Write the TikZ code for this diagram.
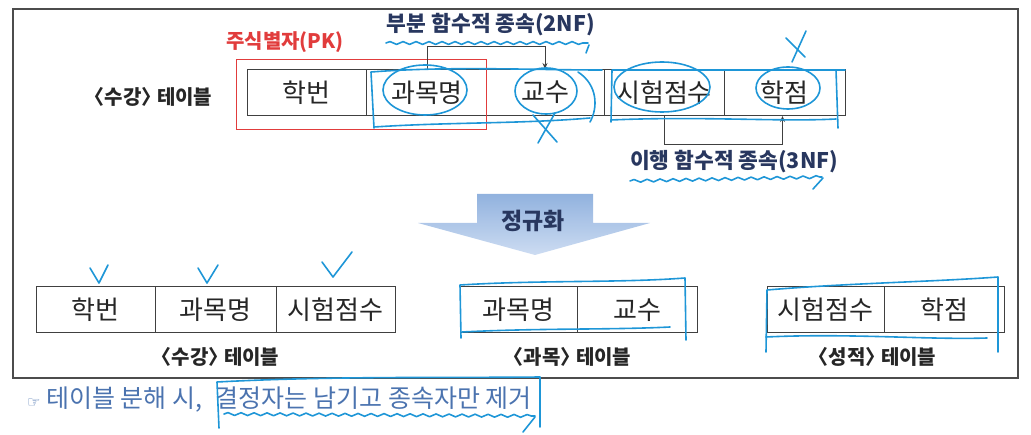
\documentclass[tikz,border=0pt]{standalone}
\usepackage{fontspec}
\setmainfont{Noto Sans CJK KR}
\newfontfamily\symfont{DejaVu Sans}
\usepackage{xcolor}
\usepackage{tikz}
\usetikzlibrary{arrows.meta, positioning, calc, decorations.pathmorphing}
\definecolor{ink}{RGB}{30,150,215}
\definecolor{navy}{RGB}{40,55,95}
\definecolor{pkred}{RGB}{225,60,60}
\definecolor{notecol}{RGB}{75,115,175}
\definecolor{arrowtop}{RGB}{145,178,222}
\definecolor{arrowbot}{RGB}{205,220,242}
\newcommand{\opnb}{\kern-0.45em〈}
\newcommand{\clsb}{〉\kern-0.45em}

\begin{document}
\begin{tikzpicture}[x=1pt, y=-1pt,
  cell/.style={draw=black!75, line width=1pt, minimum height=46pt, inner sep=0pt, text=black!85, font=\fontsize{26}{28}\selectfont},
  celltxt/.style={inner sep=0pt, text=black!85, font=\fontsize{26}{28}\selectfont},
  lab/.style={font=\bfseries\fontsize{20}{22}\selectfont, text=black!85},
  deplab/.style={lab, text=navy, font=\bfseries\fontsize{21.5}{23}\selectfont},
  dep/.style={draw=black!75, line width=0.8pt, -{Stealth[length=6pt,width=5pt]}},
  ink/.style={draw=ink, line width=1.6pt, line cap=round, line join=round},
  wavy/.style={ink, decorate, decoration={snake, amplitude=1.4pt, segment length=13pt}}]
  \useasboundingbox (0,0) rectangle (1031,435);
  % Frame
  \draw[black!70, line width=1.5pt] (13,9) rectangle (1018,378);

  % Original table
  \node[lab] (sugang) at (153,97) {\opnb 수강\clsb{} 테이블};
  \node[cell, minimum width=119pt] (hakbun) at (306.5,92.5) {학번};
  \node[cell, minimum width=238pt] (mid) at (485,92.5) {};
  \node[celltxt] (gwamok) at (427,92.5) {과목명};
  \node[celltxt] (gyosu) at (545,92.5) {교수};
  \node[cell, minimum width=120pt] (siheom) at (664,92.5) {시험점수};
  \node[cell, minimum width=121pt] (hakjeom) at (784.5,92.5) {학점};
  % Primary key
  \node[draw=pkred, line width=1pt, minimum width=250pt, minimum height=70pt] (pkbox) at (361,95) {};
  \node[lab, text=pkred] (pklab) at (285,42) {주식별자(PK)};

  % Dependencies
  \draw[dep] (gwamok |- mid.north) -- ++(0,-23) -| (gyosu |- mid.north);
  \node[deplab] (nf2) at (491,25) {부분 함수적 종속(2NF)};
  \draw[dep] (siheom.south) -- ++(0,28) -| ([xshift=-2pt]hakjeom.south);
  \node[deplab] (nf3) at (734,162) {이행 함수적 종속(3NF)};

  % Normalization arrow
  \shade[top color=arrowtop, bottom color=arrowbot] (477,194) -- (593,194) -- (593,223) -- (650,223)
    -- (535,255) -- (418,223) -- (477,223) -- cycle;
  \node[lab, text=navy, font=\bfseries\fontsize{23}{25}\selectfont] (norm) at (533,221) {정규화};

  % Decomposed tables
  \foreach \nm/\x/\w/\lab in {a1/95.5/119/학번, a2/215.5/121/과목명, a3/335.5/119/시험점수,
      b1/518.5/117/과목명, b2/637/120/교수, c1/825.5/117/시험점수, c2/944/120/학점}{
    \node[cell, minimum width=\w pt] (\nm) at (\x,310) {\lab};
  }
  \node[lab] (laba) at (220,357) {\opnb 수강\clsb{} 테이블};
  \node[lab] (labb) at (572,357) {\opnb 과목\clsb{} 테이블};
  \node[lab] (labc) at (877,357) {\opnb 성적\clsb{} 테이블};

  % Note
  \node[anchor=west, inner sep=0pt, text=notecol, font=\fontsize{25}{27}\selectfont] (note) at (27,400)
    {{\symfont\fontsize{15}{17}\selectfont ☞} 테이블 분해 시,\hspace{8pt} 결정자는 남기고 종속자만 제거};

  % Hand-drawn marks
  \draw[ink] (425,90) ellipse [x radius=42pt, y radius=25pt];
  \draw[ink] (546,91) ellipse [x radius=31pt, y radius=23pt];
  \draw[ink] (662,87) ellipse [x radius=48pt, y radius=25pt];
  \draw[ink] (788,88) ellipse [x radius=32pt, y radius=21pt];
  \draw[ink] (533,115) -- (557,142);
  \draw[ink] (555,113) -- (538,143);
  \draw[ink] (786,38) -- (805,57);
  \draw[ink] (806,31) -- (792,62);
  \draw[ink] (374,128) -- (371,72) .. controls (450,66) and (530,70) .. (602,70);
  \draw[ink] (374,127) .. controls (450,122) and (520,124) .. (590,118);
  \draw[ink] (578,72) .. controls (598,85) and (598,108) .. (590,122);
  \draw[ink] (611,122) -- (612,70) -- (845,70);
  \draw[ink] (611,120) .. controls (700,116) and (780,122) .. (836,119);
  \draw[ink] (836,70) -- (838,128);
  \draw[wavy] (386,43) -- (588,43);
  \draw[ink] (589,45) -- (586,53);
  \draw[wavy] (630,181) -- (822,177);
  \draw[ink] (823,178) -- (813,189);
  \draw[ink] (90,268) -- (99,283) -- (108,265);
  \draw[ink] (198,268) -- (207,283) -- (218,265);
  \draw[ink] (322,262) -- (333,277) -- (352,252);
  \draw[ink] (461,338) -- (460,285) .. controls (540,280) and (620,283) .. (685,278) -- (686,340);
  \draw[ink] (462,332) .. controls (540,328) and (610,330) .. (670,327);
  \draw[ink] (766,352) -- (767,290) .. controls (850,283) and (930,282) .. (998,277) -- (998,352);
  \draw[ink] (766,337) .. controls (850,333) and (930,340) .. (987,338);
  \draw[ink] (219,428) -- (217,382) .. controls (330,376) and (440,378) .. (540,377) -- (540,427);
  \draw[wavy] (224,414) -- (535,416);
  \draw[ink] (535,417) -- (523,432);
\end{tikzpicture}
\end{document}
